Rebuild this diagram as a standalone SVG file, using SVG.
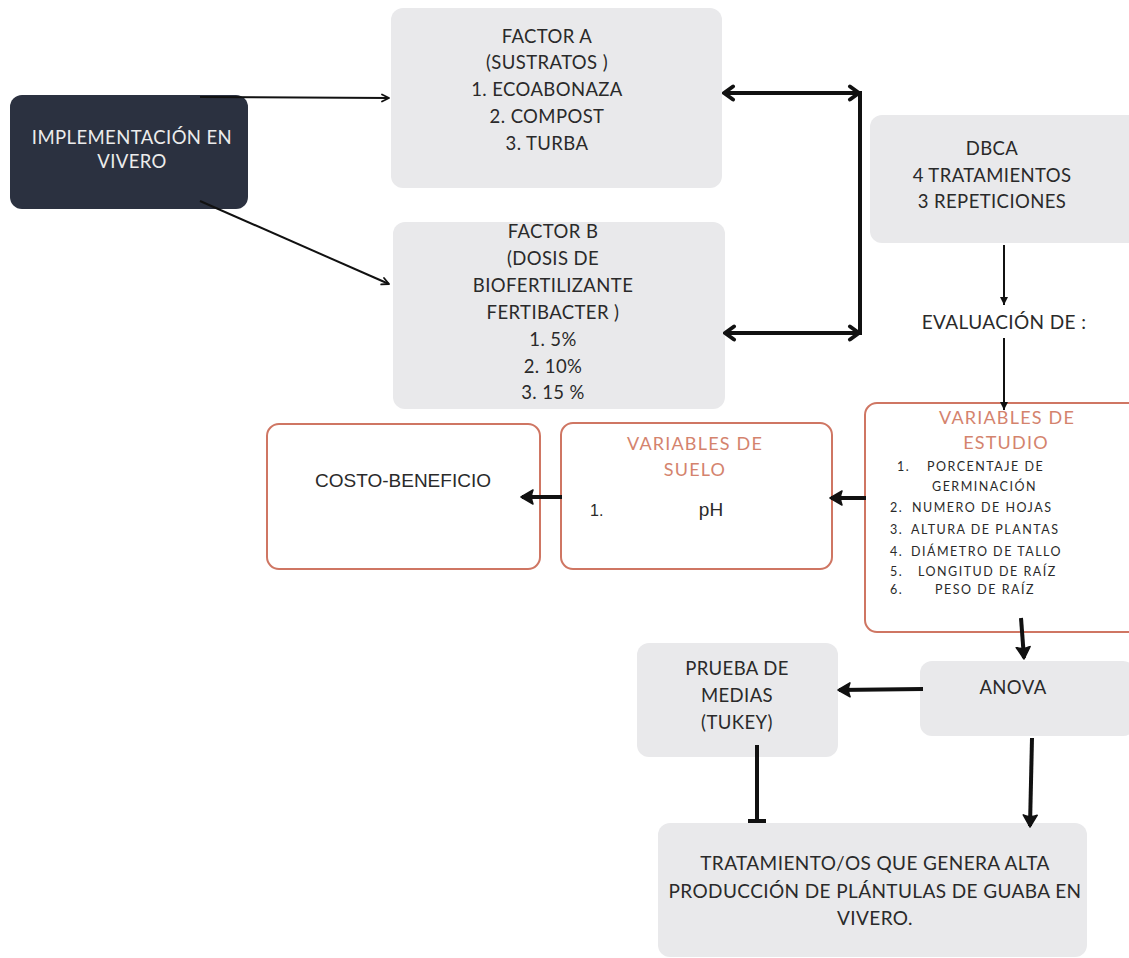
<svg xmlns="http://www.w3.org/2000/svg" width="1129" height="958" viewBox="0 0 1129 958">
<style>
.gray{fill:#e9e9eb;stroke:none}
.red{fill:#fff;stroke:#cf7663;stroke-width:2}
.t{font-family:Lato,"Liberation Sans",sans-serif;font-size:18.5px;fill:#2a2a2a;text-anchor:middle;letter-spacing:0.4px}
.w{fill:#ececec;font-size:18.5px}
.sal{fill:#d4836d;font-size:18px;letter-spacing:1.2px}
.sm{font-family:Lato,"Liberation Sans",sans-serif;font-size:12.5px;fill:#2a2a2a;letter-spacing:1.5px}
.ar{font-family:"Liberation Sans",Arial,sans-serif;font-size:19px;fill:#2a2a2a}
.thin{stroke:#111;stroke-width:2;fill:none}
.thick{stroke:#111;stroke-width:4;fill:none}
</style>
<defs>
<marker id="chevS" viewBox="0 0 10 10" refX="9" refY="5" markerWidth="10" markerHeight="10" markerUnits="userSpaceOnUse" orient="auto-start-reverse"><path d="M2,1.5 L9,5 L2,8.5" fill="none" stroke="#111" stroke-width="1.8" stroke-linecap="round" stroke-linejoin="round"/></marker>
<marker id="chevL" viewBox="0 0 14 18" refX="12" refY="9" markerWidth="14" markerHeight="18" markerUnits="userSpaceOnUse" orient="auto-start-reverse"><path d="M3,2.5 L12,9 L3,15.5" fill="none" stroke="#111" stroke-width="4" stroke-linecap="round" stroke-linejoin="round"/></marker>
<marker id="triS" viewBox="0 0 10 10" refX="9" refY="5" markerWidth="10" markerHeight="10" markerUnits="userSpaceOnUse" orient="auto"><path d="M1,1 L9,5 L1,9 Z" fill="#111"/></marker>
<marker id="triL" viewBox="0 0 14 16" refX="12" refY="8" markerWidth="14" markerHeight="16" markerUnits="userSpaceOnUse" orient="auto"><path d="M1,1 L13,8 L1,15 Q4,8 1,1 Z" fill="#111" stroke="#111" stroke-width="1.5" stroke-linejoin="round"/></marker>
</defs>
<rect width="1129" height="958" fill="#fff"/>

<g id="implementacion">
<rect x="10" y="95" width="238" height="114" rx="12" fill="#2b3140"/>
<text class="t w" x="132" y="144">IMPLEMENTACIÓN EN</text>
<text class="t w" x="132" y="168">VIVERO</text>
</g>

<g id="factorA">
<rect class="gray" x="391" y="8" width="331" height="180" rx="12"/>
<text class="t" x="547" y="43">FACTOR A</text>
<text class="t" x="547" y="69">(SUSTRATOS )</text>
<text class="t" x="547" y="96">1. ECOABONAZA</text>
<text class="t" x="547" y="123">2. COMPOST</text>
<text class="t" x="547" y="150">3. TURBA</text>
</g>

<g id="factorB">
<rect class="gray" x="393" y="222" width="332" height="187" rx="12"/>
<text class="t" x="553" y="238">FACTOR B</text>
<text class="t" x="553" y="265">(DOSIS DE</text>
<text class="t" x="553" y="292">BIOFERTILIZANTE</text>
<text class="t" x="553" y="319">FERTIBACTER )</text>
<text class="t" x="553" y="346">1. 5%</text>
<text class="t" x="553" y="373">2. 10%</text>
<text class="t" x="553" y="399">3. 15 %</text>
</g>

<g id="dbca">
<rect class="gray" x="870" y="115" width="275" height="128" rx="12"/>
<text class="t" x="992" y="155">DBCA</text>
<text class="t" x="992" y="182">4 TRATAMIENTOS</text>
<text class="t" x="992" y="208">3 REPETICIONES</text>
</g>

<g id="evaluacion">
<text class="t" x="1004" y="329" style="font-size:19px">EVALUACIÓN DE :</text>
</g>

<g id="variablesEstudio">
<rect class="red" x="865" y="403" width="280" height="229" rx="12"/>
<text class="t sal" x="1007" y="424">VARIABLES DE</text>
<text class="t sal" x="1006" y="449">ESTUDIO</text>
<text class="sm" x="897" y="471">1.</text>
<text class="sm" x="927" y="471">PORCENTAJE DE</text>
<text class="sm" x="932" y="491">GERMINACIÓN</text>
<text class="sm" x="890" y="512">2.</text>
<text class="sm" x="912" y="512">NUMERO DE HOJAS</text>
<text class="sm" x="890" y="534">3.</text>
<text class="sm" x="911" y="534">ALTURA DE PLANTAS</text>
<text class="sm" x="890" y="556">4.</text>
<text class="sm" x="911" y="556">DIÁMETRO DE TALLO</text>
<text class="sm" x="890" y="576">5.</text>
<text class="sm" x="918" y="576">LONGITUD DE RAÍZ</text>
<text class="sm" x="890" y="594">6.</text>
<text class="sm" x="935" y="594">PESO DE RAÍZ</text>
</g>

<g id="variablesSuelo">
<rect class="red" x="561" y="423" width="271" height="146" rx="12"/>
<text class="t sal" x="695" y="450">VARIABLES DE</text>
<text class="t sal" x="695" y="476">SUELO</text>
<text class="ar" x="590" y="516" style="font-size:16px">1.</text>
<text class="ar" x="711" y="516" text-anchor="middle">pH</text>
</g>

<g id="costoBeneficio">
<rect class="red" x="267" y="424" width="273" height="145" rx="12"/>
<text class="ar" x="403" y="487" text-anchor="middle">COSTO-BENEFICIO</text>
</g>

<g id="anova">
<rect class="gray" x="920" y="661" width="215" height="75" rx="12"/>
<text class="t" x="1013" y="694">ANOVA</text>
</g>

<g id="prueba">
<rect class="gray" x="637" y="643" width="201" height="114" rx="12"/>
<text class="t" x="737" y="675">PRUEBA DE</text>
<text class="t" x="737" y="702">MEDIAS</text>
<text class="t" x="737" y="729">(TUKEY)</text>
</g>

<g id="tratamiento">
<rect class="gray" x="658" y="823" width="429" height="134" rx="12"/>
<text class="t" x="875" y="870" style="font-size:19px">TRATAMIENTO/OS QUE GENERA ALTA</text>
<text class="t" x="875" y="898" style="font-size:19px">PRODUCCIÓN DE PLÁNTULAS DE GUABA EN</text>
<text class="t" x="875" y="925" style="font-size:19px">VIVERO.</text>
</g>

<g id="connectors">
<line class="thin" x1="200" y1="97" x2="389" y2="98" marker-end="url(#chevS)"/>
<line class="thin" x1="200" y1="201" x2="389" y2="284" marker-end="url(#chevS)"/>
<line class="thick" x1="724" y1="93" x2="859" y2="93" marker-start="url(#chevL)" marker-end="url(#chevL)"/>
<line class="thick" x1="725" y1="333" x2="859" y2="333" marker-start="url(#chevL)" marker-end="url(#chevL)"/>
<line class="thick" x1="860" y1="91" x2="860" y2="335"/>
<line class="thin" x1="1004" y1="245" x2="1004" y2="305" marker-end="url(#triS)"/>
<line class="thin" x1="1004" y1="338" x2="1004" y2="410" marker-end="url(#triS)"/>
<line class="thick" x1="866" y1="498" x2="831" y2="498" marker-end="url(#triL)"/>
<line class="thick" x1="562" y1="497" x2="522" y2="497" marker-end="url(#triL)"/>
<line class="thick" x1="1021" y1="618" x2="1024" y2="658" marker-end="url(#triL)"/>
<line class="thick" x1="923" y1="689" x2="839" y2="690" marker-end="url(#triL)"/>
<line class="thick" x1="1032" y1="738" x2="1030" y2="826" marker-end="url(#triL)"/>
<line class="thick" x1="757" y1="745" x2="757" y2="821"/>
<line class="thick" x1="748" y1="821" x2="766" y2="821"/>
</g>
</svg>
